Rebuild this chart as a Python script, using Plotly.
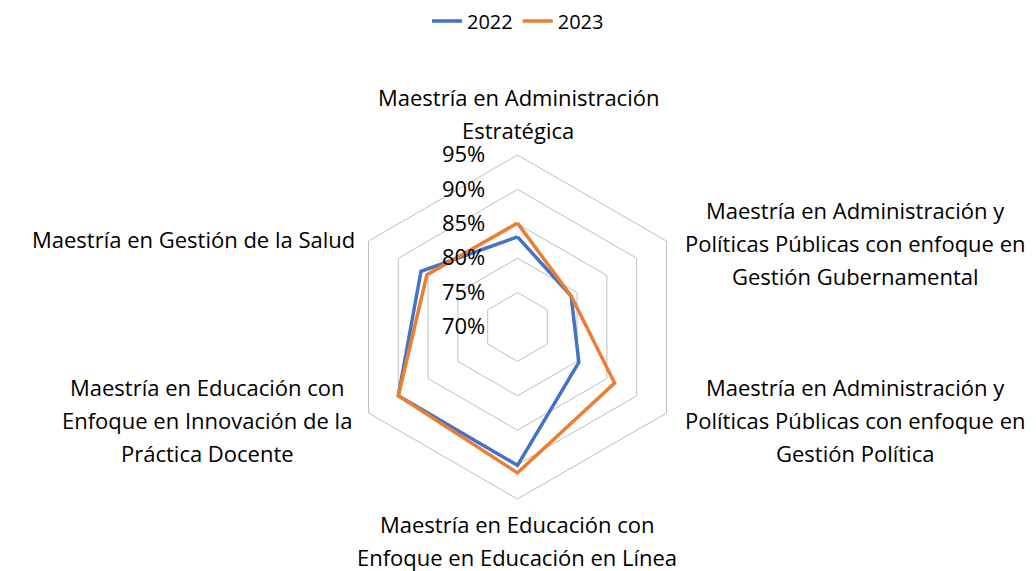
import plotly.graph_objects as go

# ---------------- data ----------------
categories = [
    "Maestría en Administración<br>Estratégica",
    "Maestría en Administración y<br>Políticas Públicas con enfoque en<br>Gestión Gubernamental",
    "Maestría en Administración y<br>Políticas Públicas con enfoque en<br>Gestión Política",
    "Maestría en Educación con<br>Enfoque en Educación en Línea",
    "Maestría en Educación con<br>Enfoque en Innovación de la<br>Práctica Docente",
    "Maestría en Gestión de la Salud",
]
series_names = ["2022", "2023"]
values_2022 = [83.1, 79.0, 80.3, 90.1, 90.0, 86.2]
values_2023 = [85.1, 79.0, 86.3, 91.2, 90.0, 85.2]
tick_values = [70, 75, 80, 85, 90, 95]
tick_labels = ["70%", "75%", "80%", "85%", "90%", "95%"]

# ---------------- style / layout ----------------
W, H = 1036, 571
colors = ["#4472C4", "#ED7D31"]
FONT = "Open Sans"
cx, cy, R = 517.5, 327.0, 172.0  # polar center / radius in pixels

# label block centres (pixels): (x, first-line y)
label_pos = [
    (518, 97),
    (855, 210),
    (855, 387),
    (517, 524),
    (207, 387),
    (193, 239),
]
line_step = 33

fig = go.Figure()
for name, vals, col in zip(series_names, [values_2022, values_2023], colors):
    fig.add_trace(go.Scatterpolar(
        r=vals + vals[:1],
        theta=categories + categories[:1],
        mode="lines",
        name=name,
        line=dict(color=col, width=3.5),
        hoverinfo="skip",
    ))

annotations = []
for cat, (px, py) in zip(categories, label_pos):
    for i, line in enumerate(cat.split("<br>")):
        annotations.append(dict(
            text=line, x=px / W, y=1 - (py + i * line_step) / H,
            xref="paper", yref="paper", xanchor="center", yanchor="middle",
            showarrow=False, font=dict(family=FONT, size=22, color="#000000"),
        ))

fig.update_layout(
    width=W, height=H,
    margin=dict(l=0, r=0, t=0, b=0),
    paper_bgcolor="white", plot_bgcolor="white",
    font=dict(family=FONT, color="#000000"),
    showlegend=True,
    legend=dict(orientation="h", x=0.5, xanchor="center", y=1 - 21 / H, yanchor="middle",
                font=dict(family=FONT, size=20, color="#000000"), itemwidth=30),
    polar=dict(
        domain=dict(x=[(cx - R) / W, (cx + R) / W], y=[(H - cy - R) / H, (H - cy + R) / H]),
        bgcolor="white",
        gridshape="linear",
        angularaxis=dict(
            rotation=90, direction="clockwise", showticklabels=False, ticks="",
            showgrid=False, showline=True, linecolor="#BFBFBF", linewidth=1,
        ),
        radialaxis=dict(
            range=[tick_values[0], tick_values[-1]], angle=90, tickangle=90,
            tickvals=tick_values, ticktext=tick_labels, side="counterclockwise",
            showline=False, showgrid=True, gridcolor="#BFBFBF", gridwidth=1,
            ticks="outside", ticklen=24, tickcolor="rgba(0,0,0,0)",
            tickfont=dict(family=FONT, size=22, color="#000000"),
        ),
    ),
    annotations=annotations,
)

fig.write_html("out.html", config={"displayModeBar": False},
               post_script="document.body.style.margin='0';document.body.style.overflow='hidden';")
